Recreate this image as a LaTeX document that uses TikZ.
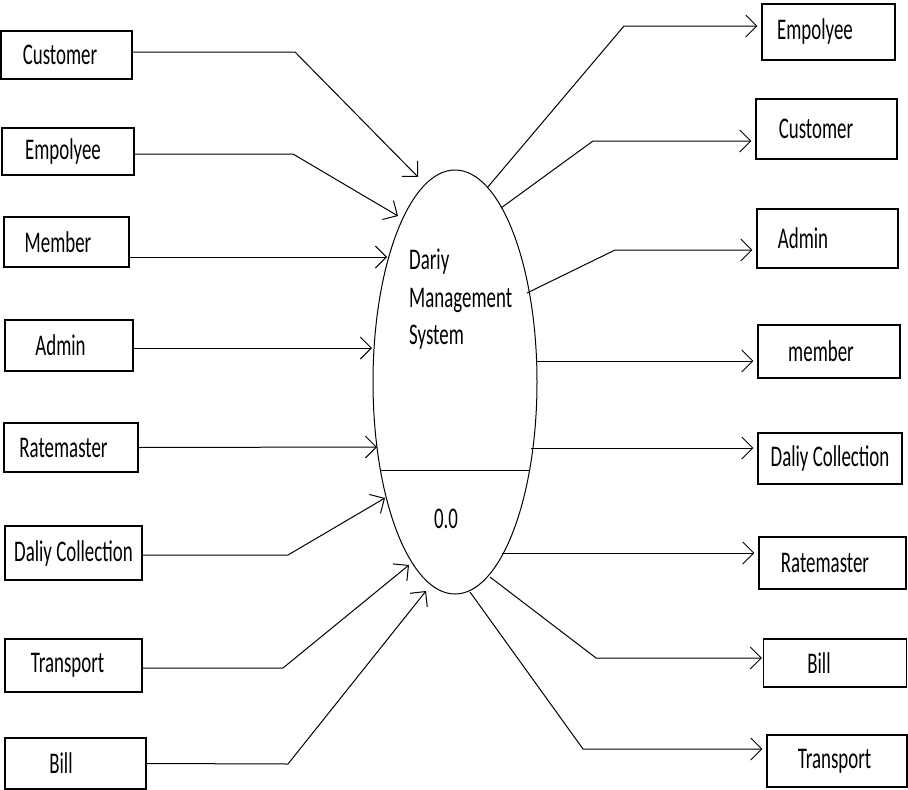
\documentclass[tikz,border=0pt]{standalone}
\usepackage{fontspec}
\setmainfont{Carlito}[FakeStretch=0.63]
\usetikzlibrary{arrows.meta,shapes.geometric}
\begin{document}
\begin{tikzpicture}[x=1pt,y=-1pt,
  box/.style={draw,line width=1.1pt,inner sep=0pt,font=\fontsize{30}{34}\selectfont},
  txt/.style={inner sep=0pt,font=\fontsize{30}{37.5}\selectfont},
  flow/.style={line width=1pt,-{Straight Barb[length=11pt,width=22pt,line width=1pt]}},
  outflow/.style={flow,shorten >=4pt},
]
\useasboundingbox (0,0) rectangle (908,790);

% process
\node[draw,ellipse,line width=1pt,minimum width=164pt,minimum height=424pt,inner sep=0pt] (p) at (455,382) {};
\draw[line width=1pt] (380.4,470) -- (529.6,470);
\node[txt,anchor=north west,align=left] (pname) at (409,249) {Dariy\\Management\\System};
\node[txt] (pnum) at (446,519) {0.0};

% left boxes
\node[box,minimum width=131pt,minimum height=48pt] (lc) at (66.5,55) {\hspace*{-13pt}Customer};
\node[box,minimum width=132pt,minimum height=47pt] (le) at (68,151.5) {\hspace*{-10pt}Empolyee};
\node[box,minimum width=125pt,minimum height=50pt] (lm) at (66.5,242) {\hspace*{-17pt}Member};
\node[box,minimum width=128pt,minimum height=51pt] (la) at (69,345.5) {\hspace*{-17pt}Admin};
\node[box,minimum width=134pt,minimum height=49pt] (lr) at (71,447.5) {\hspace*{-15pt}Ratemaster};
\node[box,minimum width=137pt,minimum height=54pt] (ld) at (73.5,553) {Daliy Collection};
\node[box,minimum width=137pt,minimum height=53pt] (lt) at (73.5,665.5) {\hspace*{-12pt}Transport};
\node[box,minimum width=141pt,minimum height=51pt] (lb) at (75.5,763.5) {\hspace*{-29pt}Bill};

% right boxes
\node[box,minimum width=133pt,minimum height=56pt] (re) at (828.5,32) {\hspace*{-27pt}Empolyee};
\node[box,minimum width=141pt,minimum height=60pt] (rc) at (826.5,129) {\hspace*{-21pt}Customer};
\node[box,minimum width=141pt,minimum height=59pt] (ra) at (827.5,238.5) {\hspace*{-49pt}Admin};
\node[box,minimum width=142pt,minimum height=53pt] (rm) at (829,351.5) {\hspace*{-16pt}member};
\node[box,minimum width=144pt,minimum height=51pt] (rd) at (830,458.5) {Daliy Collection};
\node[box,minimum width=147pt,minimum height=52pt] (rr) at (832.5,563) {\hspace*{-15pt}Ratemaster};
\node[box,minimum width=143pt,minimum height=48pt] (rb) at (835,663) {\hspace*{-32pt}Bill};
\node[box,minimum width=140pt,minimum height=52pt] (rt) at (837,761) {\hspace*{-5pt}Transport};

% points on the process
\coordinate (t1) at (418,177);
\coordinate (t2) at (398,216);
\coordinate (t3) at (387,257);
\coordinate (t4) at (372,348);
\coordinate (t5) at (377,447);
\coordinate (t6) at (385,498);
\coordinate (t7) at (409,565);
\coordinate (t8) at (426,591);
\coordinate (s1) at (487,188);
\coordinate (s2) at (501,208);
\coordinate (s3) at (527,293);
\coordinate (s4) at (537,361);
\coordinate (s5) at (531,448);
\coordinate (s6) at (502,553);
\coordinate (s7) at (490,577);
\coordinate (s8) at (470,592);

% incoming flows
\draw[flow] ([yshift=3pt]lc.east) -- (295,52) -- (t1);
\draw[flow] ([yshift=-2.5pt]le.east) -- (293,154) -- (t2);
\draw[flow] ([yshift=-15pt]lm.east) -- (t3);
\draw[flow] ([yshift=-2.5pt]la.east) -- (t4);
\draw[flow] (lr.east) -- (t5);
\draw[flow] ([yshift=-2pt]ld.east) -- (288,555) -- (t6);
\draw[flow] ([yshift=-2.5pt]lt.east) -- (283,668) -- (t7);
\draw[flow] (lb.east) -- (288,764) -- (t8);

% outgoing flows
\draw[outflow] (s1) -- (624,26) -- ([yshift=6pt]re.west);
\draw[outflow] (s2) -- (593,141) -- ([yshift=-12pt]rc.west);
\draw[outflow] (s3) -- (615,250) -- ([yshift=-11.5pt]ra.west);
\draw[outflow] (s4) -- ([yshift=-9.5pt]rm.west);
\draw[outflow] (s5) -- ([yshift=10.5pt]rd.west);
\draw[outflow] (s6) -- ([yshift=10pt]rr.west);
\draw[flow,shorten >=1pt] (s7) -- (596,658) -- ([yshift=5pt]rb.west);
\draw[outflow] (s8) -- (583,749) -- ([yshift=12pt]rt.west);
\end{tikzpicture}
\end{document}
